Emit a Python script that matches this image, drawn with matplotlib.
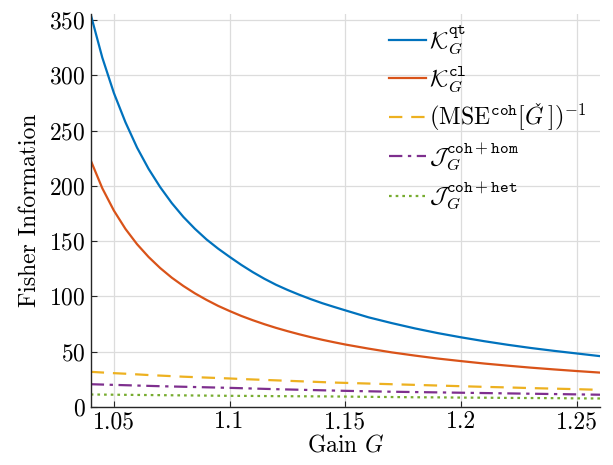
import matplotlib
matplotlib.use("Agg")
import matplotlib.pyplot as plt
import numpy as np

plt.rcParams['font.family'] = 'serif'
plt.rcParams['font.serif'] = ['cmr10']
plt.rcParams['mathtext.fontset'] = 'cm'
plt.rcParams['axes.formatter.use_mathtext'] = True
plt.rcParams['font.size'] = 17

# values
gain = [1.040, 1.045, 1.050, 1.055, 1.060, 1.065, 1.070, 1.075, 1.080, 1.085, 1.090, 1.095,
        1.100, 1.105, 1.110, 1.115, 1.120, 1.125, 1.130, 1.135, 1.140, 1.145, 1.150,
        1.16, 1.17, 1.18, 1.19, 1.20, 1.21, 1.22, 1.23, 1.24, 1.25, 1.26]
k_qt = [355, 316, 284, 257.5, 234.6, 215.3, 198.8, 184.4, 171.9, 161.1, 151.5, 143.2,
        135.7, 128.5, 121.9, 115.9, 110.5, 105.8, 101.5, 97.5, 93.8, 90.5, 87.3,
        81.0, 75.8, 71.0, 66.7, 62.9, 59.4, 56.2, 53.3, 50.7, 48.3, 45.9]
k_cl = [223, 197.8, 177.6, 161.0, 147.2, 135.6, 125.6, 116.9, 109.4, 102.7, 96.8, 91.4,
        86.7, 82.3, 78.4, 74.8, 71.5, 68.5, 65.7, 63.1, 60.7, 58.5, 56.4,
        52.7, 49.3, 46.4, 43.7, 41.4, 39.2, 37.3, 35.5, 33.9, 32.4, 31.0]
mse_inv = [31.7, 31.1, 30.5, 30.0, 29.4, 28.8, 28.3, 27.8, 27.3, 26.9, 26.5, 26.1,
           25.7, 25.2, 24.8, 24.4, 24.0, 23.6, 23.2, 22.8, 22.4, 22.0, 21.7,
           21.1, 20.5, 19.9, 19.3, 18.7, 18.1, 17.6, 17.0, 16.5, 16.0, 15.4]
j_hom = [20.5, 20.2, 19.9, 19.6, 19.3, 19.0, 18.7, 18.45, 18.2, 17.95, 17.7, 17.45,
         17.2, 16.9, 16.6, 16.3, 16.0, 15.75, 15.5, 15.25, 15.0, 14.75, 14.5,
         14.1, 13.7, 13.4, 13.1, 12.8, 12.5, 12.2, 11.9, 11.6, 11.3, 11.0]
j_het = [11.2, 11.1, 11.0, 10.9, 10.8, 10.7, 10.6, 10.5, 10.4, 10.3, 10.2, 10.1,
         10.0, 9.95, 9.9, 9.8, 9.7, 9.65, 9.6, 9.55, 9.5, 9.4, 9.3,
         9.1, 8.9, 8.7, 8.6, 8.4, 8.3, 8.1, 8.0, 7.9, 7.7, 7.6]

x_ticks = [1.05, 1.1, 1.15, 1.2, 1.25]
x_labels = ['1.05', '1.1', '1.15', '1.2', '1.25']
y_ticks = [0, 50, 100, 150, 200, 250, 300, 350]

fig = plt.figure(figsize=(6.13, 4.65), dpi=100)
ax = fig.add_axes([0.148, 0.125, 0.831, 0.845])

lw = 1.6
ax.plot(gain, k_qt, color='#0072BD', lw=lw, label=r'$\mathcal{K}_G^{\mathtt{qt}}$')
ax.plot(gain, k_cl, color='#D95319', lw=lw, label=r'$\mathcal{K}_G^{\mathtt{cl}}$')
ax.plot(gain, mse_inv, color='#EDB120', lw=lw, dashes=(6, 4),
        label=r'$\left(\mathrm{MSE}^{\mathtt{coh}}[G^{\!\!\check{}\,\,}]\right)^{-1}$')
ax.plot(gain, j_hom, color='#7E2F8E', lw=lw, dashes=(6, 2.5, 1.5, 2.5),
        label=r'$\mathcal{J}_G^{\mathtt{coh+hom}}$')
ax.plot(gain, j_het, color='#77AC30', lw=lw, dashes=(1.2, 1.8),
        label=r'$\mathcal{J}_G^{\mathtt{coh+het}}$')

ax.set_xlim(1.04, 1.26)
ax.set_ylim(0, 355.5)
ax.set_xticks(x_ticks)
ax.set_xticklabels(x_labels)
ax.set_yticks(y_ticks)
ax.grid(True, color='#dcdcdc', lw=0.9)
ax.set_axisbelow(True)
for s in ['top', 'right']:
    ax.spines[s].set_visible(False)
for s in ['left', 'bottom']:
    ax.spines[s].set_color('#262626')
    ax.spines[s].set_linewidth(1.0)
ax.tick_params(direction='in', length=4, width=0.8, colors='#262626', labelcolor='black', labelsize=17)
ax.tick_params(axis='x', pad=3)

ax.set_xlabel(r'Gain $G$', fontsize=17, labelpad=1)
ax.set_ylabel('Fisher Information', fontsize=17, labelpad=6)

ax.legend(loc='upper left', bbox_to_anchor=(0.608, 0.985), bbox_transform=fig.transFigure,
          frameon=False, handlelength=1.55, handletextpad=0.15, labelspacing=0.35, fontsize=17,
          borderpad=0.2)

fig.savefig('out.png', dpi=100)
